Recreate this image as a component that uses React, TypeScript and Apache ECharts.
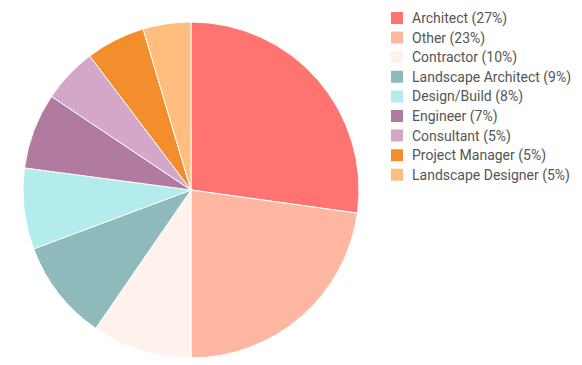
import React, { useEffect, useRef } from "react";
import * as echarts from "echarts";

const categories = [
  "Architect",
  "Other",
  "Contractor",
  "Landscape Architect",
  "Design/Build",
  "Engineer",
  "Consultant",
  "Project Manager",
  "Landscape Designer",
];
const values = [27.2, 22.8, 9.6, 9.7, 7.8, 7.3, 5.3, 5.7, 4.6];
const legendPercents = [27, 23, 10, 9, 8, 7, 5, 5, 5];
const colors = [
  "#ff7370",
  "#ffb7a2",
  "#fff1ec",
  "#8fbabb",
  "#b2ecec",
  "#b07aa1",
  "#d4a6c8",
  "#f28e2b",
  "#ffbe7d",
];

export default function App() {
  const ref = useRef<HTMLDivElement>(null);
  useEffect(() => {
    if (!ref.current) return;
    const chart = echarts.init(ref.current, undefined, { renderer: "svg" });
    const pctMap: Record<string, number> = {};
    categories.forEach((c, i) => (pctMap[c] = legendPercents[i]));
    chart.setOption({
      animation: false,
      color: colors,
      legend: {
        orient: "vertical",
        left: 381,
        top: 2,
        padding: 0,
        itemWidth: 14,
        itemHeight: 14,
        itemGap: 3.6,
        icon: "rect",
        textStyle: {
          fontFamily: "Roboto",
          fontSize: 14,
          lineHeight: 14,
          color: "#555",
          padding: [0, 0, 0, 3],
        },
        formatter: (name: string) => `${name} (${pctMap[name]}%)`,
        data: categories,
      },
      series: [
        {
          type: "pie",
          center: [183, 182],
          radius: [0, 168],
          startAngle: 90,
          clockwise: true,
          label: { show: false },
          labelLine: { show: false },
          emphasis: { disabled: true },
          itemStyle: { borderColor: "#fff", borderWidth: 1 },
          data: categories.map((c, i) => ({ name: c, value: values[i] })),
        },
      ],
    });
    return () => chart.dispose();
  }, []);
  return <div ref={ref} style={{ width: 566, height: 349 }} />;
}
